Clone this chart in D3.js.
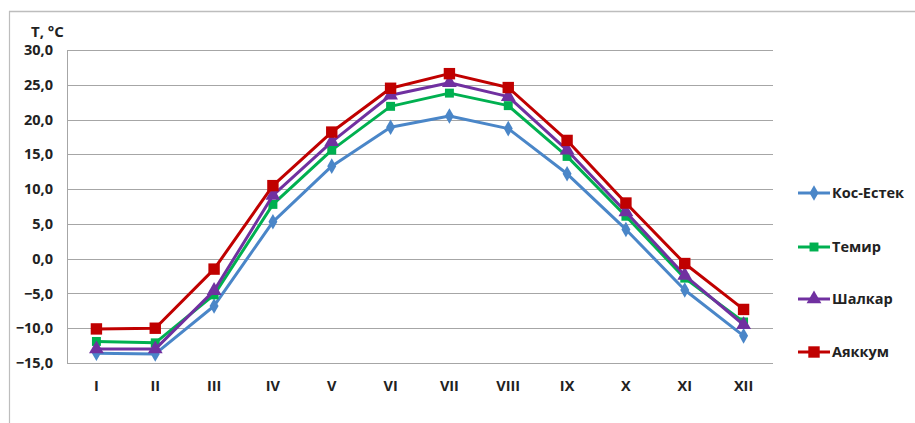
<!DOCTYPE html>
<html><head><meta charset="utf-8">
<script src="https://cdn.jsdelivr.net/npm/d3@7"></script>
<style>body{margin:0;background:#fff;}svg{display:block;font-family:"Open Sans","Liberation Sans",Arial,sans-serif;}</style>
</head><body>
<svg id="c" width="915" height="423"></svg>
<script>
const months = ["I","II","III","IV","V","VI","VII","VIII","IX","X","XI","XII"];
const yTicks = [-15,-10,-5,0,5,10,15,20,25,30];
const seriesNames = ["Кос-Естек","Темир","Шалкар","Аяккум"];
const kosEstek = [-13.6,-13.7,-6.8,5.3,13.3,18.9,20.5,18.7,12.2,4.2,-4.5,-11.1];
const temir    = [-11.9,-12.1,-5.2,7.8,15.6,21.9,23.8,22.0,14.7,6.1,-2.8,-9.1];
const shalkar  = [-13.0,-13.0,-4.6,9.1,16.8,23.5,25.3,23.3,15.6,6.7,-2.4,-9.5];
const ayakkum  = [-10.1,-10.0,-1.5,10.5,18.2,24.5,26.6,24.6,17.0,8.0,-0.7,-7.3];

const colors = ["#4a86c8","#00b050","#7030a0","#c00000"];
const shapes = ["diamond","square","triangle","square"];
const msize  = [70,80,95,130];
const data = [kosEstek, temir, shalkar, ayakkum];

const svg = d3.select("#c");
const L=67, R=773, T=50, B=363;
const x = d3.scaleBand().domain(months).range([L,R]);
const y = d3.scaleLinear().domain([-15,30]).range([B,T]);

// outer frame
svg.append("line").attr("x1",9).attr("x2",915).attr("y1",11.5).attr("y2",11.5).attr("stroke","#bdbdbd").attr("stroke-width",1.5);
svg.append("line").attr("x1",9.5).attr("x2",9.5).attr("y1",11).attr("y2",423).attr("stroke","#bdbdbd").attr("stroke-width",1.2);

// gridlines
svg.append("g").selectAll("line").data(yTicks).join("line")
  .attr("x1",L).attr("x2",R).attr("y1",d=>Math.round(y(d))+0.5).attr("y2",d=>Math.round(y(d))+0.5)
  .attr("stroke","#a6a6a6").attr("stroke-width",1);
svg.append("line").attr("x1",L+0.5).attr("x2",L+0.5).attr("y1",T).attr("y2",B).attr("stroke","#a6a6a6");

// y axis labels
const ya = svg.append("g").attr("transform",`translate(${L},0)`)
  .call(d3.axisLeft(y).tickValues(yTicks).tickSize(0).tickPadding(14).tickFormat(d=>d3.format(".1f")(d).replace(".",",")));
ya.select(".domain").remove();
ya.selectAll("text").attr("font-size",14.5).attr("font-weight","bold").attr("fill","#222").attr("font-family","Open Sans, Liberation Sans, sans-serif");

// x axis labels
const xa = svg.append("g").attr("transform",`translate(0,${B})`)
  .call(d3.axisBottom(x).tickSize(0).tickPadding(18));
xa.select(".domain").remove();
xa.selectAll("text").attr("font-size",14.5).attr("font-weight","bold").attr("fill","#222").attr("font-family","Open Sans, Liberation Sans, sans-serif");

// title
svg.append("text").attr("x",31).attr("y",37).text("T, °C").attr("font-size",15).attr("font-weight","bold").attr("fill","#222");

const symType = {diamond:d3.symbolDiamond, square:d3.symbolSquare, triangle:d3.symbolTriangle};
const line = d3.line().x((d,i)=>x(months[i])+x.bandwidth()/2).y(d=>y(d));

data.forEach((vals,k)=>{
  const g = svg.append("g");
  g.append("path").datum(vals).attr("d",line).attr("fill","none").attr("stroke",colors[k]).attr("stroke-width",3).attr("stroke-linejoin","round");
  g.selectAll("path.m").data(vals).join("path").attr("class","m")
    .attr("transform",(d,i)=>`translate(${x(months[i])+x.bandwidth()/2},${y(d)})`)
    .attr("d",d3.symbol().type(symType[shapes[k]]).size(msize[k]))
    .attr("fill",colors[k]);
});

// legend
const legY = [193,247,299,352];
seriesNames.forEach((n,k)=>{
  const g = svg.append("g").attr("transform",`translate(0,${legY[k]})`);
  g.append("line").attr("x1",798).attr("x2",830).attr("y1",0).attr("y2",0).attr("stroke",colors[k]).attr("stroke-width",3);
  g.append("path").attr("transform","translate(814,0)").attr("d",d3.symbol().type(symType[shapes[k]]).size(msize[k])).attr("fill",colors[k]);
  g.append("text").attr("x",832).attr("y",5).text(n).attr("font-size",14.5).attr("font-weight","bold").attr("fill","#222");
});
</script>
</body></html>
